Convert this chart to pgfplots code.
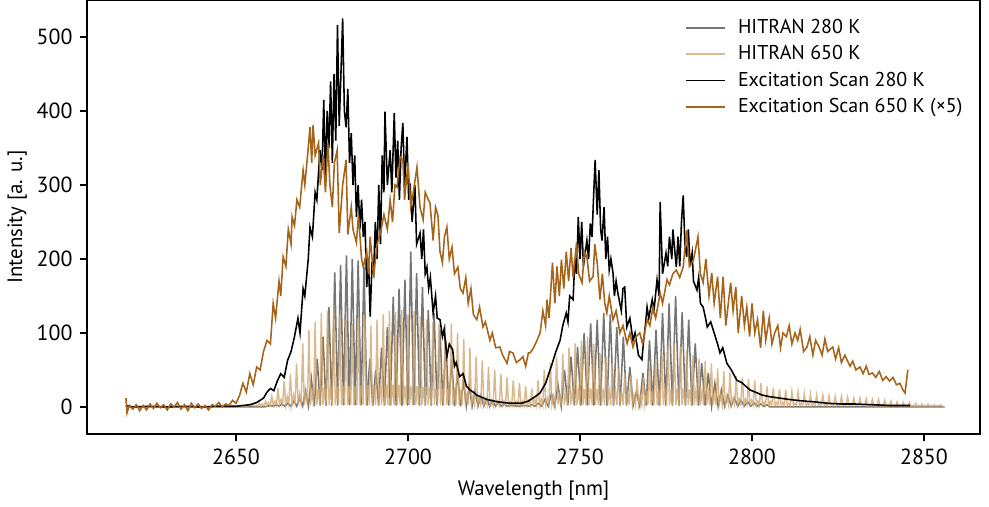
\documentclass[border=0pt]{standalone}
\usepackage{pgfplots}
\pgfplotsset{compat=1.18}
\usepackage{fontspec}
\setmainfont{PT Sans}
\definecolor{hgray}{RGB}{118,118,118}
\definecolor{htan}{RGB}{210,168,115}
\definecolor{ebrown}{RGB}{166,100,26}
\begin{document}
\begin{tikzpicture}
\begin{axis}[
  name=ax,
  scale only axis,
  width=428.6pt, height=208.3pt,
  xmin=2606.7, xmax=2866.3, ymin=-36.5, ymax=550,
  axis line style={line width=0.9pt},
  tick style={black, line width=0.9pt},
  major tick length=3.5pt,
  tick align=outside,
  xtick pos=bottom, ytick pos=left,
  xtick={2650,2700,2750,2800,2850},
  ytick={0,100,200,300,400,500},
  /pgf/number format/assume math mode=true,
  /pgf/number format/set thousands separator={},
  ticklabel style={font=\fontsize{10.5}{12}\selectfont},
  label style={font=\fontsize{10}{12}\selectfont},
  xlabel={Wavelength [nm]},
  ylabel={Intensity [a. u.]},
  xlabel style={at={(axis description cs:0.5,-0.1315)}, anchor=center},
  ylabel style={at={(axis description cs:-0.0784,0.5)}, anchor=center},
  legend cell align=left,
  legend image code/.code={\draw[#1, line width=0.9pt] (0pt,0pt) -- (18.7pt,0pt);},
  legend style={draw=none, fill=none, font=\fontsize{9.6}{11}\selectfont,
    at={(rel axis cs:0.6627,0.976)}, anchor=north west, row sep=0.3pt,
    /tikz/every odd column/.append style={column sep=3.6pt}},
]
\addplot[hgray, line width=0.75pt] coordinates {
(2618,0)(2658,0)(2659.15,1)
(2660.0,2)(2660.85,1)(2661.7,3)(2662.55,1)(2663.4,4)(2664.25,1)(2665.1,5)(2665.95,1)(2666.8,8)(2667.65,1)(2668.5,12)(2669.35,1)(2670.2,22)(2671.05,1)(2671.9,38)(2672.75,1)(2673.6,65)(2674.45,2)(2675.3,95)(2676.15,2)(2677.0,135)(2677.85,2)(2678.7,182)(2679.55,2)(2680.4,192)(2681.25,2)(2682.1,205)(2682.95,2)(2683.8,200)(2684.65,2)(2685.5,198)(2686.35,2)(2687.2,189)(2688.05,2)(2688.9,65)(2689.75,2)(2690.6,50)(2691.45,2)(2692.3,80)(2693.15,2)(2694.0,108)(2694.85,2)(2695.7,149)(2696.55,2)(2697.4,160)(2698.25,2)(2699.1,172)(2699.95,2)(2700.8,210)(2701.65,2)(2702.5,181)(2703.35,2)(2704.2,162)(2705.05,2)(2705.9,131)(2706.75,2)(2707.6,127)(2708.45,2)(2709.3,104)(2710.15,2)(2711.0,90)(2711.85,2)(2712.7,64)(2713.55,1)(2714.4,46)(2715.25,1)(2716.1,36)(2716.95,1)(2717.8,28)(2718.65,1)(2719.5,22)(2720.35,1)(2721.2,15)(2722.05,1)(2722.9,11)(2723.75,1)(2724.6,8)(2725.45,1)(2726.3,6)(2727.15,1)(2728.0,4)(2728.85,1)(2730,2)(2732,1)(2734,2)(2735,1)
(2736.0,3)(2736.95,1)(2737.9,5)(2738.85,1)(2739.8,10)(2740.75,1)(2741.7,18)(2742.65,1)(2743.6,30)(2744.55,1)(2745.5,50)(2746.45,2)(2747.4,68)(2748.35,2)(2749.3,81)(2750.25,2)(2751.2,100)(2752.15,2)(2753.1,113)(2754.05,2)(2755.0,118)(2755.95,2)(2756.9,127)(2757.85,2)(2758.8,125)(2759.75,2)(2760.7,108)(2761.65,2)(2762.6,95)(2763.55,2)(2764.5,54)(2765.45,2)(2766.4,20)(2767.35,2)(2768.3,46)(2769.25,2)(2770.2,90)(2771.15,2)(2772.1,104)(2773.05,2)(2774.0,127)(2774.95,2)(2775.9,140)(2776.85,2)(2777.8,150)(2778.75,2)(2779.7,128)(2780.65,2)(2781.6,118)(2782.55,2)(2783.5,86)(2784.45,2)(2785.4,59)(2786.35,2)(2787.3,46)(2788.25,1)(2789.2,32)(2790.15,1)(2791.1,23)(2792.05,1)(2793.0,16)(2793.95,1)(2794.9,12)(2795.85,1)(2796.8,9)(2797.75,1)(2798.7,7)(2799.65,1)(2800.6,5)(2801.55,1)(2802.5,4)(2803.45,1)(2804.4,3)(2805.35,0)(2856,0)
};
\addlegendentry{HITRAN 280 K}
\addplot[htan, line width=0.7pt, opacity=0.8] coordinates {
(2618,0)(2650,0)(2653,1)
(2655.0,3)(2655.45,1)(2655.9,3)(2656.35,1)
(2656.8,5)(2657.25,1)(2657.7,4)(2658.15,1)
(2658.6,8)(2659.05,2)(2659.5,6)(2659.95,2)
(2660.4,14)(2660.85,2)(2661.3,8)(2661.75,2)
(2662.2,25)(2662.65,3)(2663.1,10)(2663.55,3)
(2664.0,35)(2664.45,3)(2664.9,14)(2665.35,3)
(2665.8,45)(2666.25,3)(2666.7,16)(2667.15,3)
(2667.6,59)(2668.05,3)(2668.5,18)(2668.95,3)
(2669.4,86)(2669.85,3)(2670.3,20)(2670.75,3)
(2671.2,104)(2671.65,3)(2672.1,22)(2672.55,3)
(2673.0,115)(2673.45,3)(2673.9,24)(2674.35,3)
(2674.8,127)(2675.25,3)(2675.7,25)(2676.15,3)
(2676.6,130)(2677.05,3)(2677.5,26)(2677.95,3)
(2678.4,138)(2678.85,3)(2679.3,27)(2679.75,3)
(2680.2,125)(2680.65,3)(2681.1,28)(2681.55,3)
(2682.0,118)(2682.45,3)(2682.9,28)(2683.35,3)
(2683.8,113)(2684.25,3)(2684.7,28)(2685.15,3)
(2685.6,120)(2686.05,3)(2686.5,29)(2686.95,3)
(2687.4,125)(2687.85,3)(2688.3,30)(2688.75,3)
(2689.2,110)(2689.65,3)(2690.1,30)(2690.55,3)
(2691.0,118)(2691.45,3)(2691.9,30)(2692.35,3)
(2692.8,125)(2693.25,3)(2693.7,30)(2694.15,3)
(2694.6,130)(2695.05,3)(2695.5,30)(2695.95,3)
(2696.4,128)(2696.85,3)(2697.3,30)(2697.75,3)
(2698.2,131)(2698.65,3)(2699.1,29)(2699.55,3)
(2700.0,125)(2700.45,3)(2700.9,28)(2701.35,3)
(2701.8,130)(2702.25,3)(2702.7,28)(2703.15,3)
(2703.6,122)(2704.05,3)(2704.5,27)(2704.95,3)
(2705.4,118)(2705.85,3)(2706.3,26)(2706.75,3)
(2707.2,115)(2707.65,3)(2708.1,25)(2708.55,3)
(2709.0,112)(2709.45,3)(2709.9,24)(2710.35,3)
(2710.8,113)(2711.25,3)(2711.7,22)(2712.15,3)
(2712.6,113)(2713.05,3)(2713.5,20)(2713.95,3)
(2714.4,100)(2714.85,3)(2715.3,18)(2715.75,3)
(2716.2,92)(2716.65,3)(2717.1,16)(2717.55,3)
(2718.0,80)(2718.45,3)(2718.9,14)(2719.35,3)
(2719.8,68)(2720.25,3)(2720.7,12)(2721.15,3)
(2721.6,63)(2722.05,3)(2722.5,10)(2722.95,3)
(2723.4,54)(2723.85,2)(2724.3,9)(2724.75,2)
(2725.2,50)(2725.65,2)(2726.1,8)(2726.55,2)
(2727.0,45)(2727.45,2)(2727.9,8)(2728.35,2)
(2728.8,40)(2729.25,2)(2729.7,7)(2730.15,2)
(2730.6,36)(2731.05,2)(2731.5,7)(2731.95,2)
(2732.4,32)(2732.85,2)(2733.3,8)(2733.75,2)
(2734.2,28)(2734.65,2)(2735.1,9)(2735.55,2)
(2736.0,25)(2736.45,2)(2736.9,10)(2737.35,2)
(2737.8,36)(2738.25,2)(2738.7,11)(2739.15,2)
(2739.6,50)(2740.05,3)(2740.5,12)(2740.95,3)
(2741.4,60)(2741.85,3)(2742.3,14)(2742.75,3)
(2743.2,68)(2743.65,3)(2744.1,16)(2744.55,3)
(2745.0,72)(2745.45,3)(2745.9,18)(2746.35,3)
(2746.8,80)(2747.25,3)(2747.7,20)(2748.15,3)
(2748.6,86)(2749.05,3)(2749.5,22)(2749.95,3)
(2750.4,90)(2750.85,3)(2751.3,24)(2751.75,3)
(2752.2,95)(2752.65,3)(2753.1,25)(2753.55,3)
(2754.0,85)(2754.45,3)(2754.9,25)(2755.35,3)
(2755.8,73)(2756.25,3)(2756.7,24)(2757.15,3)
(2757.6,68)(2758.05,3)(2758.5,23)(2758.95,3)
(2759.4,60)(2759.85,3)(2760.3,22)(2760.75,3)
(2761.2,52)(2761.65,3)(2762.1,20)(2762.55,3)
(2763.0,46)(2763.45,3)(2763.9,18)(2764.35,3)
(2764.8,42)(2765.25,3)(2765.7,16)(2766.15,3)
(2766.6,38)(2767.05,3)(2767.5,15)(2767.95,3)
(2768.4,40)(2768.85,3)(2769.3,16)(2769.75,3)
(2770.2,55)(2770.65,3)(2771.1,18)(2771.55,3)
(2772.0,65)(2772.45,3)(2772.9,20)(2773.35,3)
(2773.8,75)(2774.25,3)(2774.7,22)(2775.15,3)
(2775.6,82)(2776.05,3)(2776.5,24)(2776.95,3)
(2777.4,86)(2777.85,3)(2778.3,25)(2778.75,3)
(2779.2,82)(2779.65,3)(2780.1,25)(2780.55,3)
(2781.0,76)(2781.45,3)(2781.9,24)(2782.35,3)
(2782.8,70)(2783.25,3)(2783.7,23)(2784.15,3)
(2784.6,65)(2785.05,3)(2785.5,22)(2785.95,3)
(2786.4,62)(2786.85,3)(2787.3,20)(2787.75,3)
(2788.2,59)(2788.65,3)(2789.1,18)(2789.55,3)
(2790.0,52)(2790.45,3)(2790.9,16)(2791.35,3)
(2791.8,48)(2792.25,3)(2792.7,14)(2793.15,3)
(2793.6,46)(2794.05,3)(2794.5,12)(2794.95,3)
(2795.4,42)(2795.85,3)(2796.3,11)(2796.75,3)
(2797.2,40)(2797.65,3)(2798.1,10)(2798.55,3)
(2799.0,38)(2799.45,3)(2799.9,9)(2800.35,3)
(2800.8,36)(2801.25,2)(2801.7,8)(2802.15,2)
(2802.6,32)(2803.05,2)(2803.5,7)(2803.95,2)
(2804.4,28)(2804.85,2)(2805.3,7)(2805.75,2)
(2806.2,26)(2806.65,2)(2807.1,6)(2807.55,2)
(2808.0,24)(2808.45,2)(2808.9,6)(2809.35,2)
(2809.8,23)(2810.25,2)(2810.7,5)(2811.15,2)
(2811.6,21)(2812.05,2)(2812.5,5)(2812.95,2)
(2813.4,20)(2813.85,2)(2814.3,5)(2814.75,2)
(2815.2,18)(2815.65,2)(2816.1,5)(2816.55,2)
(2817.0,17)(2817.45,2)(2817.9,4)(2818.35,2)
(2818.8,16)(2819.25,2)(2819.7,4)(2820.15,2)
(2820.6,16)(2821.05,2)(2821.5,4)(2821.95,2)
(2822.4,15)(2822.85,2)(2823.3,4)(2823.75,2)
(2824.2,14)(2824.65,2)(2825.1,4)(2825.55,2)
(2826.0,14)(2826.45,2)(2826.9,4)(2827.35,2)
(2827.8,13)(2828.25,2)(2828.7,4)(2829.15,2)
(2829.6,12)(2830.05,2)(2830.5,3)(2830.95,2)
(2831.4,12)(2831.85,2)(2832.3,3)(2832.75,2)
(2833.2,11)(2833.65,1)(2834.1,3)(2834.55,1)
(2835.0,10)(2835.45,1)(2835.9,3)(2836.35,1)
(2836.8,10)(2837.25,1)(2837.7,3)(2838.15,1)
(2838.6,9)(2839.05,1)(2839.5,3)(2839.95,1)
(2840.4,8)(2840.85,1)(2841.3,2)(2841.75,1)
(2842.2,7)(2842.65,1)(2843.1,2)(2843.55,1)
(2844.0,6)(2844.45,1)(2844.9,2)(2845.35,1)
(2845.8,6)(2846.25,1)(2846.7,2)(2847.15,1)
(2847.6,5)(2848.05,1)(2848.5,2)(2848.95,1)
(2849.4,4)(2849.85,1)(2850.3,2)(2850.75,1)
(2851.2,4)(2851.65,1)(2852.1,2)(2852.55,1)
(2853.0,3)(2853.45,1)(2853.9,2)(2854.35,1)
(2854.8,3)(2855.25,1)(2856,0)
};
\addlegendentry{HITRAN 650 K}
\addplot[black, line width=0.75pt] coordinates {
(2618,2)(2620,0)(2625,1)(2630,0)(2635,1)(2640,0)(2645,1)(2650,1)(2652,2)(2654,3)(2656,6)(2658,12)(2659,20)(2660,25)(2661,22)(2662,35)(2663,45)(2664,40)(2665,63)(2666,75)(2667,95)(2668,120)(2668.6,100)(2669.5,160)(2670,150)(2671,200)(2671.5,243)(2672.2,230)(2673,290)(2673.5,280)(2674.4,347)(2675,320)(2675.5,415)(2676,310)(2676.5,400)(2677,350)(2677.5,440)(2678,330)(2678.5,450)(2679,360)(2679.5,516)(2680,380)(2680.5,450)(2681,525)(2681.5,400)(2682,378)(2682.5,430)(2683,330)(2683.5,370)(2684,300)(2684.5,340)(2685,257)(2685.5,300)(2686,240)(2686.5,280)(2687,230)(2687.5,250)(2688,162)(2688.5,200)(2689,122)(2689.5,190)(2690,180)(2690.5,250)(2691,200)(2691.5,300)(2692,220)(2692.5,340)(2693,290)(2693.3,399)(2694,300)(2694.8,347)(2695.3,290)(2696,397)(2696.5,310)(2697,360)(2697.5,280)(2698,350)(2698.5,384)(2699,300)(2699.7,365)(2700.2,280)(2700.6,302)(2701.2,250)(2702,300)(2702.5,220)(2703.5,235)(2704,200)(2704.5,240)(2705,180)(2705.5,189)(2706,160)(2706.5,175)(2707.3,127)(2708,150)(2708.5,120)(2709.3,118)(2710,95)(2710.5,105)(2711.3,68)(2712,85)(2713,77)(2713.5,55)(2714,60)(2715,41)(2716,45)(2717,28)(2718,23)(2719,20)(2720,16)(2721,14)(2723,10)(2726,7)(2729.6,5)(2733,5)(2735,8)(2737,14)(2738.4,19)(2740,32)(2741.3,50)(2742,60)(2743,75)(2744.2,90)(2745,110)(2746,127)(2746.5,115)(2747,150)(2748,145)(2748.5,200)(2749,180)(2749.5,257)(2750,200)(2750.5,250)(2751,190)(2752,225)(2752.5,200)(2753,248)(2753.5,230)(2754,290)(2754.4,334)(2755,260)(2755.5,320)(2756,240)(2756.4,225)(2757,270)(2757.5,200)(2758,230)(2758.5,185)(2759,200)(2759.6,181)(2760,150)(2760.5,170)(2761,154)(2762,130)(2762.5,160)(2763,162)(2763.6,108)(2764.5,120)(2765.4,90)(2766,100)(2767,70)(2768,64)(2768.5,90)(2769,110)(2769.5,135)(2770,120)(2771,145)(2771.5,130)(2772.4,172)(2773,150)(2773.3,277)(2774,180)(2775,208)(2775.5,190)(2776,230)(2776.7,200)(2777,240)(2778,189)(2778.5,230)(2779,190)(2779.5,250)(2780,286)(2780.5,220)(2781,203)(2781.5,240)(2782,190)(2782.6,208)(2783,170)(2784,158)(2784.5,175)(2785,140)(2785.8,135)(2786.5,120)(2787,108)(2788,115)(2789,100)(2790,85)(2790.7,73)(2791.5,80)(2792.7,59)(2794,50)(2795.6,36)(2797,33)(2799.4,23)(2801,20)(2803,16)(2805,14)(2808,12)(2811,10)(2815,8)(2818,7)(2822,5)(2826,4)(2830,4)(2835,3)(2840,2)(2846,2)
};
\addlegendentry{Excitation Scan 280 K}
\addplot[ebrown, line width=0.75pt] coordinates {
(2618,12)(2618.3,-8)(2619,2)(2620,-3)(2621,3)(2622,-5)(2623,2)(2624,-4)(2625,4)(2626,-2)(2627,5)(2628,-1)(2629,3)(2630,-4)(2631,4)(2632,0)(2633,6)(2634,-3)(2635,3)(2636,-5)(2637,5)(2638,-1)(2639,4)(2640,-2)(2641,2)(2642,-4)(2643,3)(2644,1)(2645,6)(2646,0)(2647,4)(2648,2)(2649,9)(2650,5)(2651,15)(2652,32)(2653,20)(2654,45)(2655,30)(2656,54)(2657,50)(2658,75)(2659,90)(2660,85)(2660.8,140)(2661.5,120)(2662.5,170)(2663,150)(2663.7,203)(2664.5,190)(2665.2,240)(2666,220)(2666.3,257)(2667,245)(2667.7,280)(2668.5,270)(2669.5,320)(2670,300)(2670.8,340)(2671.5,378)(2672,330)(2672.4,381)(2673,340)(2674,357)(2674.5,300)(2675.3,340)(2676,290)(2676.7,357)(2677.3,300)(2678,270)(2678.6,330)(2679.4,347)(2680,235)(2681,300)(2682,334)(2682.5,233)(2683.5,270)(2684,240)(2685,222)(2685.6,260)(2686.5,200)(2687,189)(2688,210)(2688.5,180)(2689,230)(2690,176)(2691,220)(2692,235)(2693,260)(2694,240)(2694.8,280)(2695.5,250)(2696.2,300)(2696.8,297)(2697.7,338)(2698.5,334)(2699,280)(2700,330)(2700.8,270)(2701.5,289)(2702.6,324)(2703,300)(2703.5,270)(2704.4,253)(2705,290)(2706.4,275)(2707.3,225)(2708,270)(2708.7,259)(2709.3,210)(2710,195)(2710.6,230)(2711.3,243)(2712,200)(2712.8,216)(2713.5,180)(2714.5,189)(2715.2,160)(2716,154)(2716.8,175)(2717.5,140)(2718.3,160)(2719,125)(2720,118)(2720.8,135)(2721.8,108)(2722.5,115)(2723.8,90)(2724.5,100)(2725.5,80)(2726.7,81)(2727.5,70)(2728.8,59)(2729.5,75)(2730.5,73)(2731.5,60)(2732.6,64)(2733.4,68)(2734.2,55)(2735,73)(2735.5,73)(2736.5,80)(2737.5,90)(2738.4,100)(2739.2,130)(2740,110)(2740.4,145)(2741,120)(2742,195)(2742.7,140)(2743.3,190)(2744,150)(2744.6,199)(2745.3,160)(2746,210)(2746.7,170)(2747.4,215)(2748,175)(2749,222)(2749.6,180)(2750.6,168)(2751.3,210)(2752,203)(2752.8,170)(2753.8,176)(2754.3,220)(2755,195)(2755.8,145)(2756.5,180)(2757.2,140)(2757.8,127)(2758.5,150)(2759.6,118)(2760.5,130)(2761.6,100)(2762.5,110)(2763.7,86)(2764.5,100)(2765.4,81)(2766.3,95)(2767.4,100)(2768.2,85)(2769.5,118)(2770.3,110)(2771.2,135)(2772,120)(2773.3,154)(2774,140)(2775.3,172)(2776,165)(2777,180)(2778,185)(2779,175)(2780,189)(2781,239)(2781.8,190)(2783,199)(2784.3,230)(2785,180)(2785.8,168)(2786.6,200)(2787.5,150)(2788.3,181)(2789,140)(2790,176)(2790.8,120)(2791.6,176)(2792.4,110)(2793,135)(2793.8,168)(2794.5,130)(2795.3,162)(2796,100)(2797,150)(2797.8,110)(2798.5,135)(2799.3,95)(2800,140)(2800.8,100)(2801.6,118)(2802.5,80)(2803.3,130)(2804,90)(2805,120)(2805.8,85)(2806.6,100)(2807.5,110)(2808.3,80)(2809,100)(2810,95)(2810.8,110)(2811.6,85)(2812.5,100)(2813.3,90)(2814,105)(2815,75)(2816,81)(2816.8,95)(2817.7,70)(2818.5,90)(2819.5,81)(2820.4,70)(2821.2,92)(2822,75)(2823.5,81)(2824.3,65)(2825.2,80)(2826,60)(2827,70)(2827.6,64)(2828.5,55)(2829.3,62)(2830.2,50)(2831.4,54)(2832.3,45)(2833.2,55)(2834,44)(2835,46)(2836,40)(2837,48)(2838,36)(2839,41)(2840,35)(2841,40)(2842,30)(2843,32)(2844,22)(2844.5,19)(2845.3,50)
};
\addlegendentry{Excitation Scan 650 K (×5)}
\end{axis}
\pgfresetboundingbox
\path ([shift={(-41.8pt,-35.0pt)}]ax.south west) rectangle ([shift={(4.3pt,0pt)}]ax.north east);
\end{tikzpicture}
\end{document}
